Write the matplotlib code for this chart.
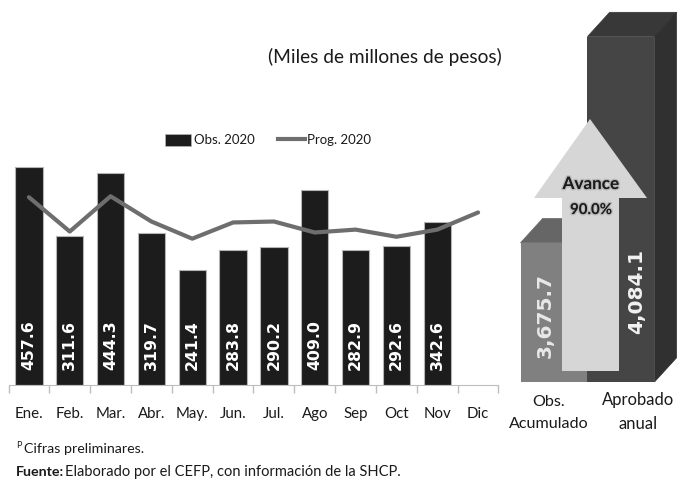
import matplotlib
matplotlib.use('agg')
import matplotlib.pyplot as plt
import matplotlib.patheffects as pe
from matplotlib.lines import Line2D
from matplotlib.patches import Patch, Polygon
from matplotlib.transforms import Affine2D

# Data
months = ['Ene.', 'Feb.', 'Mar.', 'Abr.', 'May.', 'Jun.', 'Jul.', 'Ago', 'Sep', 'Oct', 'Nov', 'Dic']
obs_2020 = [457.6, 311.6, 444.3, 319.7, 241.4, 283.8, 290.2, 409.0, 282.9, 292.6, 342.6]
prog_2020 = [394, 322, 396, 343, 307, 341, 343, 320, 326, 311, 326, 362]
total_labels = ['Obs.\nAcumulado', 'Aprobado\nanual']
total_values = [3675.7, 4084.1]

plt.rcParams['font.family'] = ['Lato', 'DejaVu Sans']
W, H = 677, 480
fig = plt.figure(figsize=(W / 100, H / 100), dpi=100, facecolor='white')

# Pixel coordinates, origin top left, for everything that is only layout
px = Affine2D().scale(1, -1).translate(0, H)

def axes_box(left, right, top, bottom):
    return [left / W, 1 - bottom / H, (right - left) / W, (bottom - top) / H]

# Monthly bars and line
ax = fig.add_axes(axes_box(8.5, 498.5, 140, 385))
ax.patch.set_alpha(0)
x = list(range(len(months)))
ax.bar(x[:len(obs_2020)], obs_2020, width=0.67, color='#1c1c1c', edgecolor='#b5b5b5', linewidth=0.8)
ax.plot(x, prog_2020, color='#6e6e6e', linewidth=3, solid_capstyle='round')
ax.set_xlim(-0.5, 11.5)
ax.set_ylim(0, 514)
ax.set_yticks([])
for side in ['top', 'left', 'right']:
    ax.spines[side].set_visible(False)
ax.spines['bottom'].set_color('#bdbdbd')
ax.set_xticks(x)
ax.set_xticklabels(months, fontsize=10.8, color='#1a1a1a')
ax.tick_params(axis='x', which='major', length=0, pad=16)
ax.set_xticks([i - 0.5 for i in range(13)], minor=True)
ax.tick_params(axis='x', which='minor', length=6, color='#bdbdbd', width=1)

for i, v in enumerate(obs_2020):
    ax.text(i, 31, f'{v:.1f}', rotation=90, ha='center', va='bottom', color='white',
            fontsize=11.3, fontweight='bold', family='DejaVu Sans')

# Legend
handles = [Patch(facecolor='#1c1c1c', edgecolor='#b5b5b5', linewidth=0.5),
           Line2D([], [], color='#6e6e6e', linewidth=3)]
fig.legend(handles, ['Obs. 2020', 'Prog. 2020'], loc='center', bbox_to_anchor=(268 / W, 1 - 140 / H),
           ncol=2, frameon=False, fontsize=9.5, handlelength=2.0, handleheight=1.0, handletextpad=0.2,
           columnspacing=1.8, labelcolor='#1a1a1a')

# Totals drawn as 3D bars
ax2 = fig.add_axes(axes_box(500, 677, 0, 382))
ax2.patch.set_alpha(0)
ax2.set_xlim(-0.806, 1.836)
ax2.set_ylim(3400, 3400 + 382 / 0.505)
ax2.axis('off')
depth_x, depth_y = 0.33, 48
fronts = ['#808080', '#454545']
tops = ['#666666', '#383838']
sides = ['#5e5e5e', '#303030']
for i, v in enumerate(total_values):
    x0, x1 = i - 0.5, i + 0.5
    ax2.fill([x0, x0 + depth_x, x1 + depth_x, x1], [v, v + depth_y, v + depth_y, v],
             color=tops[i], lw=0.5, zorder=2 + i)
    ax2.fill([x1, x1 + depth_x, x1 + depth_x, x1], [3400, 3400 + depth_y, v + depth_y, v],
             color=sides[i], lw=0.5, zorder=2 + i)
    ax2.bar(i, v - 3400, bottom=3400, width=1, color=fronts[i], zorder=2 + i)

# Arrow
arrow = [(562, 371), (619, 371), (619, 198), (647, 198), (590, 119), (534, 198), (562, 198)]
fig.add_artist(Polygon(arrow, closed=True, facecolor='#d6d6d6', edgecolor='none', transform=px))

# Texts
glow = [pe.withStroke(linewidth=2, foreground='#9a9a9a', alpha=0.5)]
fig.text(385, 57, '(Miles de millones de pesos)', transform=px, ha='center', va='center',
         fontsize=13.8, color='#1a1a1a')
fig.text(591, 184, 'Avance', transform=px, ha='center', va='center', fontsize=12.3,
         fontweight='bold', color='#1a1a1a', path_effects=glow)
fig.text(591, 210, '90.0%', transform=px, ha='center', va='center', fontsize=10.8,
         fontweight='bold', color='#1a1a1a', path_effects=glow)
fig.text(545, 315, f'{total_values[0]:,.1f}', transform=px, rotation=90, ha='center', va='center',
         fontsize=14.5, fontweight='bold', color='#e8e8e8', family='DejaVu Sans')
fig.text(637, 291, f'{total_values[1]:,.1f}', transform=px, rotation=90, ha='center', va='center',
         fontsize=14.5, fontweight='bold', color='#f2f2f2', family='DejaVu Sans')
fig.text(549, 413, total_labels[0], transform=px, ha='center', va='center', fontsize=11.6,
         color='#1a1a1a', linespacing=1.75)
fig.text(638, 412, total_labels[1], transform=px, ha='center', va='center', fontsize=12,
         color='#1a1a1a', linespacing=1.55)
fig.text(16, 445, 'P', transform=px, ha='left', va='center', fontsize=6.5, color='#1a1a1a')
fig.text(24, 449, 'Cifras preliminares.', transform=px, ha='left', va='center', fontsize=10.3, color='#1a1a1a')
fig.text(16, 472, 'Fuente:', transform=px, ha='left', va='center', fontsize=10.3, fontweight='bold', color='#1a1a1a')
fig.text(65, 472, 'Elaborado por el CEFP, con información de la SHCP.', transform=px, ha='left', va='center',
         fontsize=10.5, color='#1a1a1a')

fig.savefig('out.png', dpi=100)
